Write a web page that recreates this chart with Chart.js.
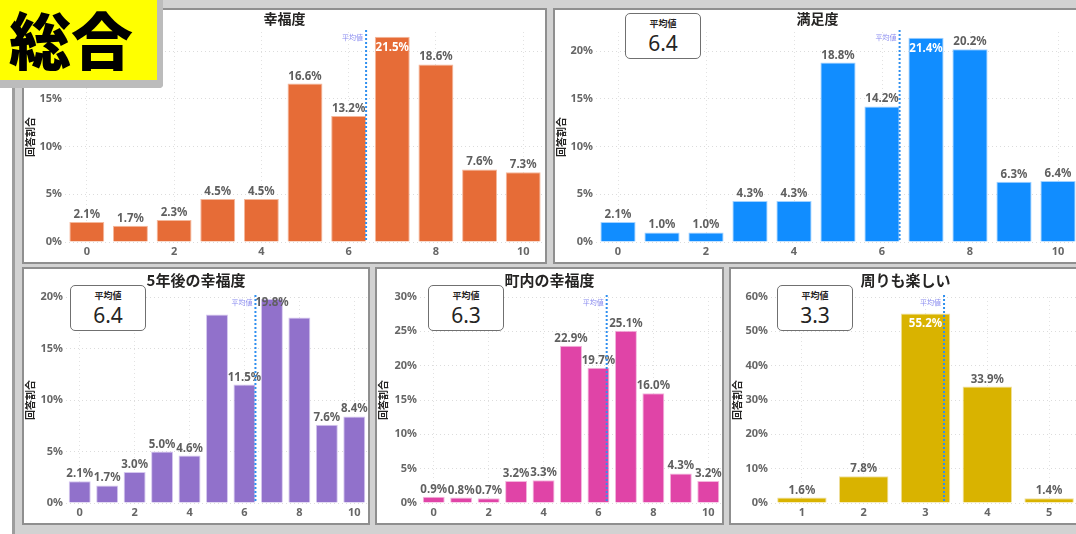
<!DOCTYPE html>
<html>
<head>
<meta charset="utf-8">
<script src="https://cdn.jsdelivr.net/npm/chart.js@4.4.1/dist/chart.umd.min.js"></script>
<style>
  body { margin: 0; width: 1076px; height: 534px; overflow: hidden; position: relative; background: #fff; }
  #bg { position: absolute; left: 12px; top: 0; right: 0; bottom: 0; background: #d2d2d2; border-left: 3px solid #9d9d9d; }
  .panel { position: absolute; box-sizing: border-box; border: 2px solid #8f8f8f; background: #fff; }
  .panel canvas { display: block; }
  .meanbox { position: absolute; width: 76px; height: 46px; box-sizing: border-box; border: 1px solid #707070; border-radius: 5px; background: #fff; text-align: center; font-family: 'Noto Sans', 'Noto Sans CJK JP', sans-serif; color: #252423; }
  .meanbox .cap { font: bold 9px 'Noto Sans CJK JP', sans-serif; margin-top: 4px; height: 12px; line-height: 12px; }
  .meanbox .val { font-size: 21px; line-height: 26px; }
  #badge { position: absolute; left: 0; top: 0; width: 157px; height: 80px; background: #ffff00; border-right: 6px solid #bcbcbc; border-bottom: 8px solid #bcbcbc; border-bottom-right-radius: 4px; font: 900 62px 'Noto Sans CJK JP', sans-serif; line-height: 76px; padding-left: 9px; box-sizing: content-box; width: 148px; color: #000; }
</style>
</head>
<body>
<div id="bg"></div>
<div class="panel" style="left:22px; top:8px; width:525px; height:256px;"><canvas id="c1"></canvas></div>
<div class="panel" style="left:553px; top:8px; width:529px; height:256px;"><canvas id="c2"></canvas>
  <div class="meanbox" style="left:70px; top:3px;"><div class="cap">平均値</div><div class="val" id="m2"></div></div></div>
<div class="panel" style="left:22px; top:267px; width:348px; height:258px;"><canvas id="c3"></canvas>
  <div class="meanbox" style="left:46px; top:16px;"><div class="cap">平均値</div><div class="val" id="m3"></div></div></div>
<div class="panel" style="left:375px; top:267px; width:349px; height:258px;"><canvas id="c4"></canvas>
  <div class="meanbox" style="left:51px; top:16px;"><div class="cap">平均値</div><div class="val" id="m4"></div></div></div>
<div class="panel" style="left:729px; top:267px; width:353px; height:258px;"><canvas id="c5"></canvas>
  <div class="meanbox" style="left:46px; top:16px;"><div class="cap">平均値</div><div class="val" id="m5"></div></div></div>
<div id="badge">総合</div>

<script>
// scores 0-10 and 1-5
const scoreLabels = ['0', '1', '2', '3', '4', '5', '6', '7', '8', '9', '10'];
const fiveLabels = ['1', '2', '3', '4', '5'];

// answer share (%)
const happiness = [2.1, 1.7, 2.3, 4.5, 4.5, 16.6, 13.2, 21.5, 18.6, 7.6, 7.3];
const satisfaction = [2.1, 1.0, 1.0, 4.3, 4.3, 18.8, 14.2, 21.4, 20.2, 6.3, 6.4];
const happiness5y = [2.1, 1.7, 3.0, 5.0, 4.6, 18.3, 11.5, 19.8, 18.0, 7.6, 8.4];
const townHappiness = [0.9, 0.8, 0.7, 3.2, 3.3, 22.9, 19.7, 25.1, 16.0, 4.3, 3.2];
const surroundings = [1.6, 7.8, 55.2, 33.9, 1.4];

// averages
const meanHappiness = 6.4;
const meanSatisfaction = 6.4;
const meanHappiness5y = 6.4;
const meanTown = 6.3;
const meanSurroundings = 3.3;

const titles = ['幸福度', '満足度', '5年後の幸福度', '町内の幸福度', '周りも楽しい'];

Chart.defaults.font.family = "'Noto Sans', 'Noto Sans CJK JP', sans-serif";
Chart.defaults.animation = false;

const FONT = "'Noto Sans', 'Noto Sans CJK JP', sans-serif";

// value labels above bars (or inside when there is no room)
const barLabels = {
  id: 'barLabels',
  afterDatasetsDraw(chart, args, opts) {
    const { ctx, chartArea } = chart;
    const values = chart.data.datasets[0].data;
    ctx.save();
    ctx.font = 'bold 11.5px ' + FONT;
    ctx.textAlign = 'center';
    ctx.textBaseline = 'alphabetic';
    chart.getDatasetMeta(0).data.forEach((bar, i) => {
      if ((opts.hide || []).includes(i)) return;
      const text = values[i].toFixed(1) + '%';
      if (bar.y - chartArea.top < 17) {
        if (opts.clamp) {
          ctx.fillStyle = '#5f5f5f';
          ctx.fillText(text, bar.x, chartArea.top + 9);
        } else {
          ctx.fillStyle = '#ffffff';
          ctx.fillText(text, bar.x, bar.y + 14);
        }
      } else {
        ctx.fillStyle = '#5f5f5f';
        ctx.fillText(text, bar.x, bar.y - 4);
      }
    });
    ctx.restore();
  }
};

// dotted average line
const meanLine = {
  id: 'meanLine',
  afterDatasetsDraw(chart, args, opts) {
    const { ctx, chartArea } = chart;
    const xs = chart.scales.x;
    const x = xs.getPixelForValue(opts.value - Number(chart.data.labels[0]));
    ctx.save();
    ctx.strokeStyle = '#2f8fef';
    ctx.lineWidth = 2;
    ctx.setLineDash([2, 2]);
    ctx.beginPath();
    ctx.moveTo(x, chartArea.top - 2);
    ctx.lineTo(x, chartArea.bottom);
    ctx.stroke();
    ctx.setLineDash([]);
    ctx.fillStyle = '#8a8cf0';
    ctx.font = '7px ' + FONT;
    ctx.textAlign = 'right';
    ctx.textBaseline = 'middle';
    ctx.fillText('平均値', x - 3, chartArea.top + 6);
    ctx.restore();
  }
};

function makeChart(id, labels, values, o) {
  const ctx = document.getElementById(id).getContext('2d');
  return new Chart(ctx, {
    type: 'bar',
    data: {
      labels: labels,
      datasets: [{
        data: values,
        backgroundColor: o.color,
        borderColor: o.border,
        borderWidth: 1,
        barPercentage: 0.8,
        categoryPercentage: 1
      }]
    },
    options: {
      responsive: true,
      maintainAspectRatio: false,
      layout: { padding: 0 },
      plugins: {
        legend: { display: false },
        tooltip: { enabled: false },
        title: {
          display: true,
          text: o.title,
          color: '#252423',
          font: { size: o.titleSize, weight: 'bold', family: "'Noto Sans CJK JP', sans-serif" },
          padding: o.titlePad
        },
        barLabels: { hide: o.hide, clamp: o.clamp },
        meanLine: { value: o.mean }
      },
      scales: {
        x: {
          ticks: {
            autoSkip: false,
            maxRotation: 0,
            padding: 3,
            color: '#666',
            font: { size: 11, weight: 'bold' },
            callback: function (v, i) { return i % o.every === 0 ? this.getLabelForValue(v) : ''; }
          },
          grid: {
            offset: false,
            drawTicks: false,
            color: (c) => c.index % o.every === 0 ? '#e2e2e2' : 'rgba(0,0,0,0)',
            lineWidth: 1
          },
          border: { display: false, dash: [1, 3] },
          afterFit: (s) => { s.height = 20; }
        },
        y: {
          min: 0,
          max: o.max,
          ticks: {
            stepSize: o.step,
            padding: 3,
            color: '#666',
            font: { size: 11, weight: 'bold' },
            callback: (v) => v + '%'
          },
          afterBuildTicks: (s) => { s.ticks = s.ticks.filter(t => t.value % o.step === 0); },
          grid: { drawTicks: false, color: '#dcdcdc' },
          border: { display: false, dash: [1, 3] },
          title: {
            display: true,
            text: '回答割合',
            color: '#252423',
            padding: 0,
            font: { size: 10, weight: 'bold', family: "'Noto Sans CJK JP', sans-serif" }
          },
          afterFit: (s) => { s.width = o.yWidth; }
        }
      }
    },
    plugins: [barLabels, meanLine]
  });
}

const topPad = { top: 0, bottom: 5.2 };
const botPad = { top: 2, bottom: 8 };

makeChart('c1', scoreLabels, happiness, {
  title: titles[0], titleSize: 14, titlePad: topPad, color: '#E66C37', border: '#f4b89c',
  max: 22, step: 5, every: 2, yWidth: 41, mean: meanHappiness
});
makeChart('c2', scoreLabels, satisfaction, {
  title: titles[1], titleSize: 14, titlePad: topPad, color: '#118DFF', border: '#a3d2ff',
  max: 22, step: 5, every: 2, yWidth: 41, mean: meanSatisfaction
});
makeChart('c3', scoreLabels, happiness5y, {
  title: titles[2], titleSize: 15, titlePad: botPad, color: '#9171CB', border: '#d5c7ef',
  max: 20, step: 5, every: 2, yWidth: 42, mean: meanHappiness5y, hide: [5, 8], clamp: true
});
makeChart('c4', scoreLabels, townHappiness, {
  title: titles[3], titleSize: 15, titlePad: botPad, color: '#E044A7', border: '#f3b6dd',
  max: 30, step: 5, every: 2, yWidth: 43, mean: meanTown
});
makeChart('c5', fiveLabels, surroundings, {
  title: titles[4], titleSize: 15, titlePad: botPad, color: '#D9B300', border: '#efe09e',
  max: 60, step: 10, every: 1, yWidth: 40, mean: meanSurroundings
});

document.getElementById('m2').textContent = meanSatisfaction.toFixed(1);
document.getElementById('m3').textContent = meanHappiness5y.toFixed(1);
document.getElementById('m4').textContent = meanTown.toFixed(1);
document.getElementById('m5').textContent = meanSurroundings.toFixed(1);
</script>
</body>
</html>
